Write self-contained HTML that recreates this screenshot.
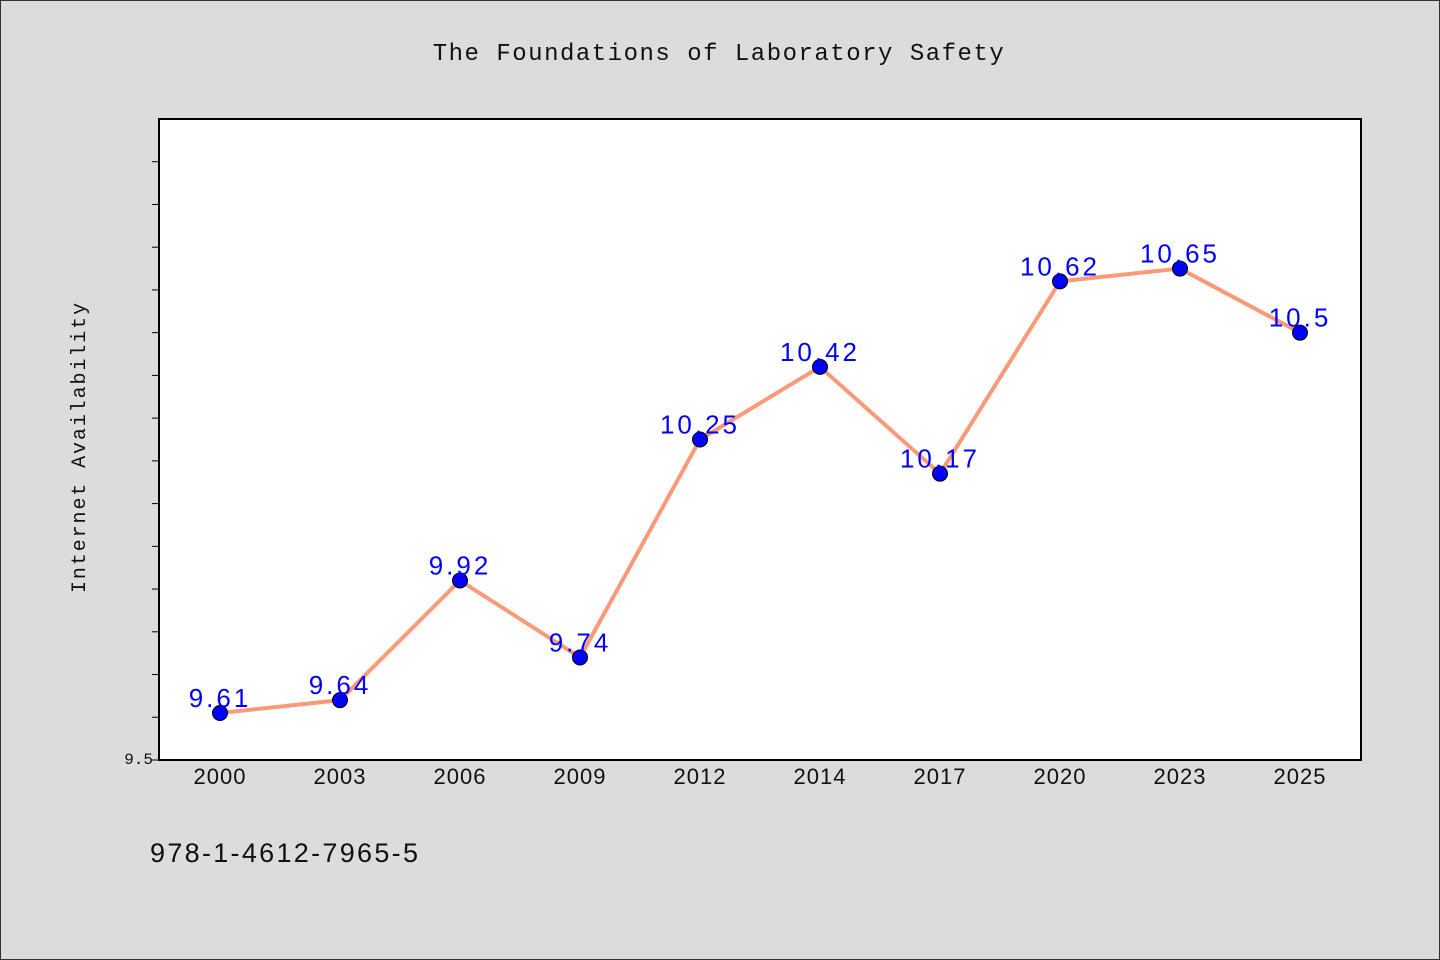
<!DOCTYPE html>
<html><head><meta charset="utf-8"><style>
body{margin:0;background:#dcdcdc;}
svg{display:block}
</style></head><body>
<svg id="chart" width="1440" height="960" xmlns="http://www.w3.org/2000/svg">
<rect x="0.5" y="0.5" width="1439" height="959" fill="#dcdcdc" stroke="#333"/>
<text x="719" y="60" text-anchor="middle" font-family="Liberation Mono, monospace" font-size="24" letter-spacing="1.5" fill="#111">The Foundations of Laboratory Safety</text>
<rect x="159" y="119" width="1202" height="641" fill="#fff" stroke="#000" stroke-width="2"/>
<text transform="translate(85,447) rotate(-90)" text-anchor="middle" font-family="Liberation Mono, monospace" font-size="20" letter-spacing="1.9" fill="#111">Internet Availability</text>
<g id="yticks"></g><g id="xticks"></g><g id="series"></g>
<text x="150" y="862" font-family="Liberation Sans, sans-serif" font-size="27" letter-spacing="2.3" fill="#111">978-1-4612-7965-5</text>
</svg>
<script>
const categories=["2000","2003","2006","2009","2012","2014","2017","2020","2023","2025"];
const values=[9.61,9.64,9.92,9.74,10.25,10.42,10.17,10.62,10.65,10.5];
const yMin=9.5,yMax=11.0;
const yTickLabels=["9.5"];
const NS="http://www.w3.org/2000/svg";
const L=159,R=1361,T=119,B=760;
function x(i){return 220+i*120;}
function y(v){return B-(v-yMin)/(yMax-yMin)*(B-T);}
function mk(tag,attrs,parent,text){const e=document.createElementNS(NS,tag);for(const k in attrs)e.setAttribute(k,attrs[k]);if(text!==undefined)e.textContent=text;parent.appendChild(e);return e;}
const yt=document.getElementById('yticks');
for(let k=0;k<=14;k++){const v=yMin+k*0.1;
 const t=mk('line',{x1:L-7,x2:L,y1:y(v),y2:y(v),stroke:'#000','stroke-width':1},yt);
 
 }
yTickLabels.forEach(s=>{const t=mk('text',{x:L-6,y:y(parseFloat(s))+4,'text-anchor':'end','font-family':'Liberation Mono, monospace','font-size':16,fill:'#111'},yt,s);
 
 });
const xt=document.getElementById('xticks');
categories.forEach((c,i)=>{const t=mk('text',{x:x(i),y:784,'text-anchor':'middle','font-family':'Liberation Sans, sans-serif','font-size':22,'letter-spacing':1,fill:'#111'},xt,c);
 
 });
const sg=document.getElementById('series');
const pl=mk('polyline',{points:values.map((v,i)=>x(i)+','+y(v)).join(' '),fill:'none',stroke:'#fa9a78','stroke-width':4},sg);


values.forEach((v,i)=>{
 const c=mk('circle',{cx:x(i),cy:y(v),r:7.5,fill:'#0000ff',stroke:'#000','stroke-width':1},sg);
 
 
 const t=mk('text',{x:x(i),y:y(v)-6,'text-anchor':'middle','font-family':'Liberation Sans, sans-serif','font-size':26,'letter-spacing':3,fill:'#0000ff'},sg,String(v));
 
 
});
</script>
</body></html>
